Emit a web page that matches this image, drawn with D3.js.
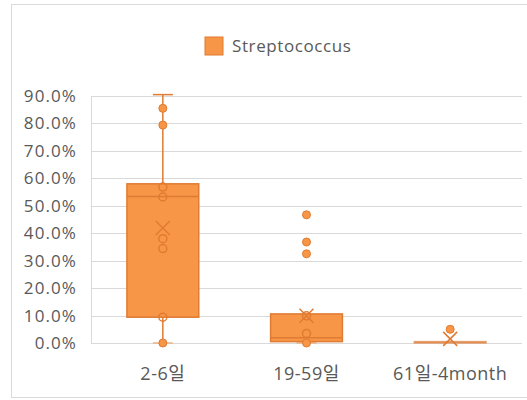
<!DOCTYPE html>
<html>
<head>
<meta charset="utf-8">
<script src="https://cdn.jsdelivr.net/npm/d3@7"></script>
<style>
  html, body { margin: 0; padding: 0; background: #fff; }
  svg text { font-family: "Open Sans", "Noto Sans CJK KR", sans-serif; fill: #595959; }
</style>
</head>
<body>
<svg id="chart" width="527" height="400"></svg>
<script>
// Box-plot summary per age group (percent)
const categories = ["2-6일", "19-59일", "61일-4month"];
const whiskerLow  = [0.0, 0.0, 0.0];
const q1          = [9.4, 0.5, 0.0];
const median      = [53.4, 1.9, 0.3];
const q3          = [58.0, 10.6, 0.5];
const whiskerHigh = [90.5, 10.6, 0.5];
const mean        = [41.9, 9.9, 1.5];
// Individual observations drawn as open circles (inside the whiskers)
const innerPoints = [[56.8, 53.2, 38.0, 34.4, 9.4], [9.9, 3.5], []];
// Observations drawn as solid dots
const solidPoints = [[85.5, 79.4, 0.0], [46.7, 36.8, 32.5, 0.0], [5.0]];
const yTicks = [0, 10, 20, 30, 40, 50, 60, 70, 80, 90];
const seriesName = "Streptococcus";

const fillColor = "#F79646";
const strokeColor = "#E07B33";

const svg = d3.select("#chart");
const margin = { left: 91, right: 5, top: 96, bottom: 57 };
const W = 527, H = 400;

// Outer chart frame
svg.append("rect")
  .attr("x", 11.5).attr("y", 4.5)
  .attr("width", 530).attr("height", 393)
  .attr("fill", "#fff").attr("stroke", "#d9d9d9");

const x = d3.scaleBand().domain(categories)
  .range([margin.left, W - margin.right]).paddingInner(0).paddingOuter(0);
const y = d3.scaleLinear().domain([0, 90]).range([H - margin.bottom, margin.top]);

// Gridlines
svg.append("g").selectAll("line").data(yTicks).join("line")
  .attr("x1", margin.left).attr("x2", W - margin.right)
  .attr("y1", d => Math.round(y(d)) + 0.5).attr("y2", d => Math.round(y(d)) + 0.5)
  .attr("stroke", "#d9d9d9").attr("stroke-width", 1);
svg.append("line")
  .attr("x1", margin.left + 0.5).attr("x2", margin.left + 0.5)
  .attr("y1", y(90)).attr("y2", y(0))
  .attr("stroke", "#d9d9d9");

// Y axis labels
const yAxis = d3.axisLeft(y).tickValues(yTicks)
  .tickFormat(d => d.toFixed(1) + "%").tickSize(0).tickPadding(14);
const gy = svg.append("g").attr("transform", `translate(${margin.left},0)`).call(yAxis);
gy.select(".domain").remove();
gy.selectAll("text").attr("font-size", 17).attr("fill", "#595959")
  .attr("letter-spacing", 1.1)
  .style("font-family", '"Open Sans", sans-serif');

// X axis labels
const xAxis = d3.axisBottom(x).tickSize(0).tickPadding(24);
const gx = svg.append("g").attr("transform", `translate(0,${y(0)})`).call(xAxis);
gx.select(".domain").remove();
gx.selectAll("text").attr("font-size", 18).attr("fill", "#595959")
  .attr("letter-spacing", 0.5)
  .style("font-family", '"Open Sans", "Noto Sans CJK KR", sans-serif');

const boxW = x.bandwidth() * 0.5;
const capW = 20;

categories.forEach((c, i) => {
  const cx = x(c) + x.bandwidth() / 2;
  const g = svg.append("g");
  // Whiskers
  g.append("line").attr("x1", cx).attr("x2", cx)
    .attr("y1", y(q3[i])).attr("y2", y(whiskerHigh[i]))
    .attr("stroke", strokeColor).attr("stroke-width", 1.5);
  g.append("line").attr("x1", cx).attr("x2", cx)
    .attr("y1", y(q1[i])).attr("y2", y(whiskerLow[i]))
    .attr("stroke", strokeColor).attr("stroke-width", 1.5);
  if (whiskerHigh[i] > q3[i]) {
    g.append("line").attr("x1", cx - capW / 2).attr("x2", cx + capW / 2)
      .attr("y1", y(whiskerHigh[i])).attr("y2", y(whiskerHigh[i]))
      .attr("stroke", strokeColor).attr("stroke-width", 1.5);
  }
  if (whiskerLow[i] < q1[i]) {
    g.append("line").attr("x1", cx - capW / 2).attr("x2", cx + capW / 2)
      .attr("y1", y(whiskerLow[i])).attr("y2", y(whiskerLow[i]))
      .attr("stroke", "#E9B48A").attr("stroke-width", 1.5);
  }
  // Box
  const thin = (y(q1[i]) - y(q3[i])) < 3;
  g.append("rect")
    .attr("x", cx - boxW / 2).attr("width", boxW)
    .attr("y", y(q3[i])).attr("height", Math.max(1, y(q1[i]) - y(q3[i])))
    .attr("fill", fillColor).attr("stroke", strokeColor).attr("stroke-width", 1.5)
    .attr("opacity", thin ? 0.6 : 1);
  // Median
  g.append("line").attr("x1", cx - boxW / 2).attr("x2", cx + boxW / 2)
    .attr("y1", y(median[i])).attr("y2", y(median[i]))
    .attr("stroke", strokeColor).attr("stroke-width", 1.5)
    .attr("opacity", thin ? 0.6 : 1);
  // Open circles
  g.selectAll("circle.inner").data(innerPoints[i]).join("circle")
    .attr("class", "inner")
    .attr("cx", cx).attr("cy", d => y(d)).attr("r", 4)
    .attr("fill", "none").attr("stroke", strokeColor).attr("stroke-width", 1.5);
  // Mean marker
  const m = y(mean[i]), s = 7;
  g.append("path")
    .attr("d", `M${cx - s},${m - s}L${cx + s},${m + s}M${cx - s},${m + s}L${cx + s},${m - s}`)
    .attr("stroke", strokeColor).attr("stroke-width", 1.5).attr("fill", "none");
  // Solid dots
  g.selectAll("circle.solid").data(solidPoints[i]).join("circle")
    .attr("class", "solid")
    .attr("cx", cx).attr("cy", d => y(d)).attr("r", 4)
    .attr("fill", fillColor).attr("stroke", strokeColor).attr("stroke-width", 1);
});

// Legend
const lg = svg.append("g").attr("transform", "translate(205,37)");
lg.append("rect").attr("width", 18).attr("height", 18)
  .attr("fill", fillColor).attr("stroke", strokeColor).attr("stroke-width", 1);
lg.append("text").attr("x", 27).attr("y", 15)
  .attr("font-size", 17).attr("letter-spacing", 0.6).text(seriesName);
</script>
</body>
</html>
